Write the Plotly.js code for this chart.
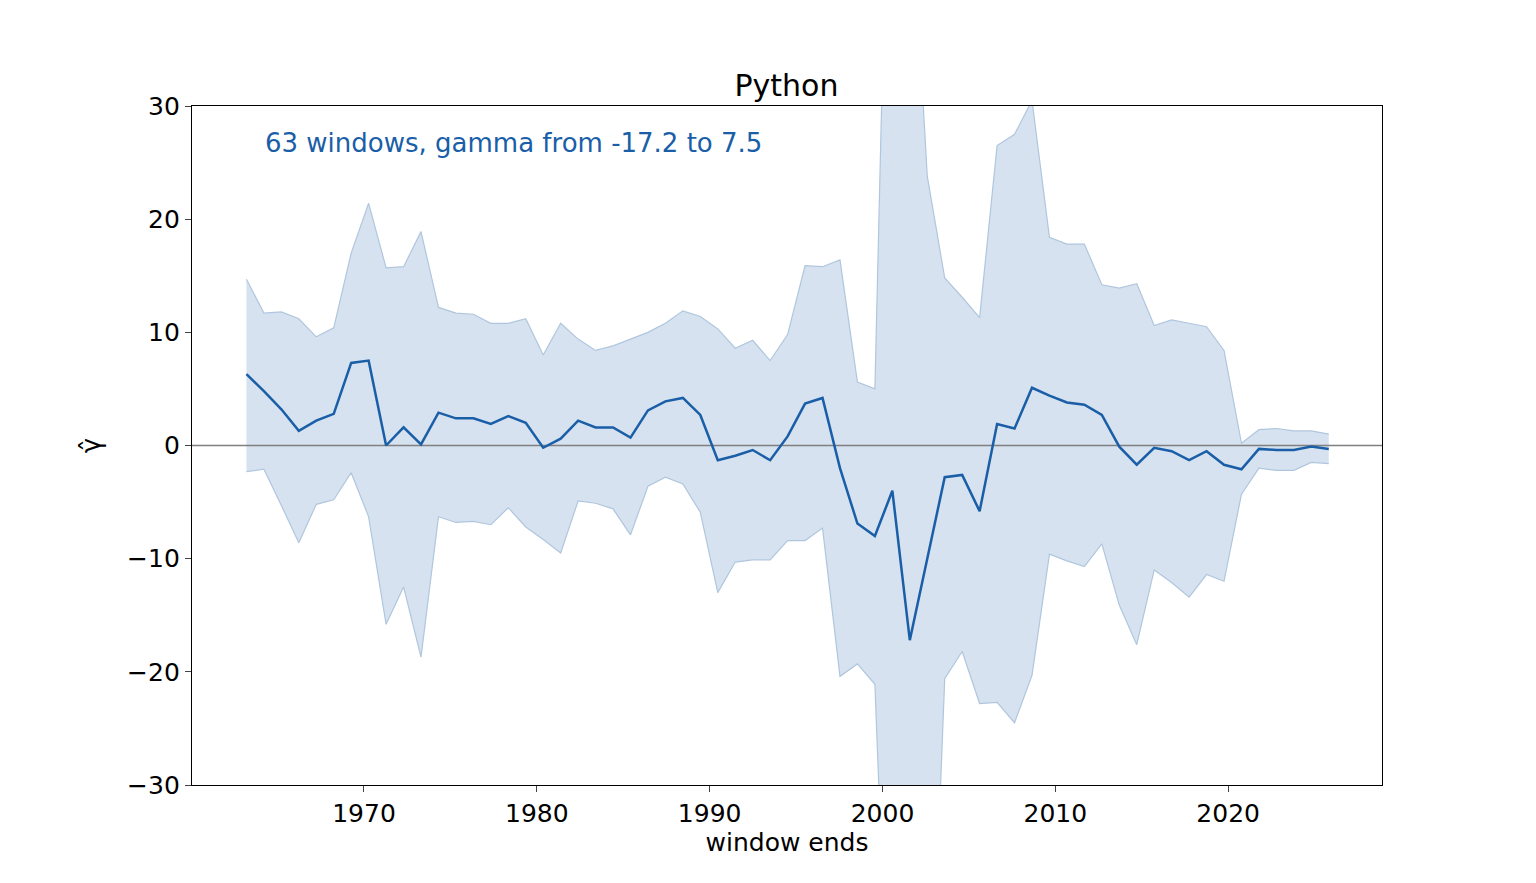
<!DOCTYPE html>
<html><head><meta charset="utf-8">
<script src="https://cdn.plot.ly/plotly-3.0.1.min.js"></script>
<style>body{margin:0}</style></head>
<body><div id="chart" style="width:1536px;height:883px"></div>
<script>
let years = [1963.20,1964.21,1965.22,1966.23,1967.24,1968.25,1969.26,1970.27,1971.28,1972.29,
1973.30,1974.31,1975.32,1976.33,1977.34,1978.35,1979.36,1980.37,1981.38,1982.39,
1983.40,1984.41,1985.42,1986.43,1987.44,1988.45,1989.46,1990.47,1991.48,1992.49,
1993.50,1994.51,1995.52,1996.53,1997.54,1998.55,1999.56,2000.57,2001.58,2002.59,
2003.60,2004.61,2005.62,2006.63,2007.64,2008.65,2009.66,2010.67,2011.68,2012.69,
2013.70,2014.71,2015.72,2016.73,2017.74,2018.75,2019.76,2020.77,2021.78,2022.79,
2023.80,2024.81,2025.82]

let gamma = [6.3,4.8,3.2,1.3,2.2,2.8,7.3,7.5,0.0,1.6,0.1,2.9,2.4,2.4,1.9,2.6,2.0,-0.2,0.6,2.2,
1.6,1.6,0.7,3.1,3.9,4.2,2.7,-1.3,-0.9,-0.4,-1.3,0.8,3.7,4.2,-2.0,-6.9,-8.0,-4.0,-17.2,-10.0,
-2.8,-2.6,-5.8,1.9,1.5,5.1,4.4,3.8,3.6,2.7,-0.1,-1.7,-0.2,-0.5,-1.3,-0.5,-1.7,-2.1,-0.3,-0.4,
-0.4,-0.1,-0.3]

let upper = [14.7,11.7,11.8,11.2,9.6,10.4,17.0,21.4,15.7,15.8,18.9,12.2,11.7,11.6,10.8,10.8,11.2,8.0,10.8,9.4,
8.4,8.8,9.4,10.0,10.8,11.9,11.4,10.3,8.6,9.3,7.5,9.8,15.9,15.8,16.4,5.6,5.0,70,51,23.8,
14.8,13.1,11.3,26.5,27.5,30.5,18.4,17.8,17.8,14.2,13.9,14.3,10.6,11.1,10.8,10.5,8.4,0.2,1.4,1.5,
1.3,1.3,1.0]

let lower = [-2.3,-2.1,-5.3,-8.6,-5.2,-4.8,-2.4,-6.3,-15.8,-12.5,-18.7,-6.3,-6.8,-6.7,-7.0,-5.5,-7.2,-8.3,-9.5,-4.9,
-5.1,-5.6,-7.9,-3.6,-2.8,-3.4,-5.9,-13.0,-10.3,-10.1,-10.1,-8.4,-8.4,-7.3,-20.4,-19.3,-21.1,-61,-70,-60,
-20.6,-18.2,-22.8,-22.7,-24.5,-20.3,-9.6,-10.2,-10.7,-8.7,-14.1,-17.6,-11.0,-12.1,-13.4,-11.4,-12.0,-4.3,-2.0,-2.2,
-2.2,-1.5,-1.6]

let blue = "#1a5ea8"
let band = "rgba(176,198,222,1)"

let traces = [
{x:years, y:lower, mode:"lines", line:{color:band,width:1.2}, hoverinfo:"skip", showlegend:false},
{x:years, y:upper, mode:"lines", fill:"tonexty", fillcolor:"rgba(26,94,168,0.18)", line:{color:band,width:1.2}, showlegend:false},
{x:[1960,2029], y:[0,0], mode:"lines", line:{color:"#808080",width:1.5}, showlegend:false},
{x:years, y:gamma, mode:"lines", line:{color:blue,width:2.5}, showlegend:false}
]

let layout = {
width:1536, height:883,
margin:{l:192, r:154, t:106, b:98},
paper_bgcolor:"white", plot_bgcolor:"white",
font:{family:"DejaVu Sans", size:25, color:"black"},
title:{text:"Python", x:0.512, xanchor:"center", yref:"paper", y:1, yanchor:"bottom", pad:{b:10}, font:{size:30}},
xaxis:{range:[1960.05,2028.9], tickvals:[1970,1980,1990,2000,2010,2020], showgrid:false, zeroline:false,
 showline:true, mirror:true, linecolor:"black", linewidth:1.3, ticks:"outside", ticklen:6,
 title:{text:"window ends", font:{size:25}, standoff:6}},
yaxis:{range:[-30,30], tickvals:[-30,-20,-10,0,10,20,30], ticktext:["−30","−20","−10","0","10","20","30"],
 showgrid:false, zeroline:false, showline:true, mirror:true, linecolor:"black", linewidth:1.3,
 ticks:"outside", ticklen:6, title:{text:"γ̂", font:{size:26}, standoff:18}},
annotations:[{xref:"paper", yref:"paper", x:0.06, y:0.946, xanchor:"left", yanchor:"middle", showarrow:false,
 text:"63 windows, gamma from -17.2 to 7.5", font:{size:26, color:blue}}]
}

Plotly.newPlot("chart", traces, layout, {displayModeBar:false})
</script></body></html>
